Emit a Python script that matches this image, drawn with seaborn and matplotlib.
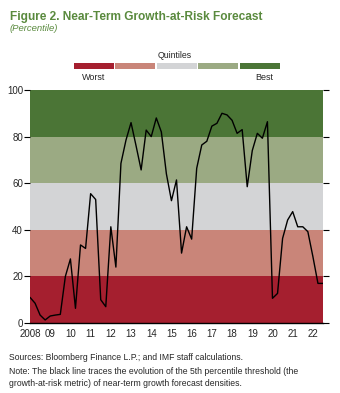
import numpy as np
import pandas as pd
import matplotlib
matplotlib.use("Agg")
import matplotlib.pyplot as plt
from matplotlib.patches import Rectangle
import seaborn as sns

sns.set_theme(style="white")
plt.rcParams["font.family"] = ["Liberation Sans", "DejaVu Sans"]

# Quarterly growth-at-risk percentile, 2008Q1 .. 2022Q3
start_year = 2008
percentile = [
    11, 8.5, 3.4, 1.3,          # 2008
    3.0, 3.4, 3.7, 20,          # 2009
    27.5, 6.3, 33.5, 32,        # 2010
    55.5, 53, 10, 7,            # 2011
    41.3, 24, 68.5, 78.5,       # 2012
    86, 76, 65.7, 82.8,         # 2013
    80, 88, 82, 64,             # 2014
    52.5, 61.4, 30, 41.3,       # 2015
    36, 66.4, 76.4, 78,         # 2016
    84.5, 85.7, 90, 89.3,       # 2017
    87, 81.4, 83, 58.5,         # 2018
    74, 81.4, 79.3, 86.4,       # 2019
    10.6, 12.7, 36.3, 44.2,     # 2020
    47.8, 41.3, 41.3, 39.2,     # 2021
    28.5, 17, 17,               # 2022
]
year_ticks = list(range(2008, 2023))
year_labels = ["2008"] + [f"{y % 100:02d}" for y in range(2009, 2023)]

quintile_edges = [0, 20, 40, 60, 80, 100]
quintile_colors = ["#A51F2F", "#C98579", "#D3D4D6", "#9BAA83", "#4B7536"]

df = pd.DataFrame({
    "date": start_year + np.arange(len(percentile)) * 0.25,
    "percentile": percentile,
})

fig = plt.figure(figsize=(3.40, 3.93), dpi=100)
ax = fig.add_axes([30 / 340, 1 - 323 / 393, 293 / 340, 233 / 393])

for lo, hi, c in zip(quintile_edges[:-1], quintile_edges[1:], quintile_colors):
    ax.axhspan(lo, hi, color=c, lw=0, zorder=0)

sns.lineplot(data=df, x="date", y="percentile", color="black", lw=1.0, ax=ax, zorder=3)

ax.set_xlim(2008, 2022.5)
ax.set_ylim(0, 100)
ax.set_xlabel("")
ax.set_ylabel("")
ax.set_xticks(year_ticks)
ax.set_xticklabels(year_labels)
ax.set_yticks(quintile_edges)
ax.tick_params(axis="x", direction="in", length=3, width=0.8, color="black",
               labelsize=7, pad=4.5)
ax.tick_params(axis="y", direction="out", length=4, width=0.8, color="black",
               labelsize=7, pad=1, left=True, right=True)
for s in ["top", "left", "right"]:
    ax.spines[s].set_visible(False)
ax.spines["bottom"].set_color("black")
ax.spines["bottom"].set_linewidth(1.0)

# Title block
fig.text(10 / 340, 1 - 20 / 393, "Figure 2. Near-Term Growth-at-Risk Forecast",
         fontsize=8.6, fontweight="bold", color="#5A8A3E", ha="left", va="baseline")
fig.text(10 / 340, 1 - 31 / 393, "(Percentile)", fontsize=6.8, style="italic",
         color="#5A8A3E", ha="left", va="baseline")

# Quintile key
fig.text(175 / 340, 1 - 56 / 393, "Quintiles", fontsize=6.3, ha="center", va="center")
box_x = [74, 115, 157, 198, 240]
for bx, c in zip(box_x, quintile_colors):
    fig.patches.append(Rectangle((bx / 340, 1 - 69 / 393), 40 / 340, 6 / 393,
                                 transform=fig.transFigure, color=c, lw=0))
fig.text(94 / 340, 1 - 78 / 393, "Worst", fontsize=6.5, ha="center", va="center")
fig.text(264 / 340, 1 - 78 / 393, "Best", fontsize=6.5, ha="center", va="center")

# Footnotes
notes = [
    "Sources: Bloomberg Finance L.P.; and IMF staff calculations.",
    "Note: The black line traces the evolution of the 5th percentile threshold (the",
    "growth-at-risk metric) of near-term growth forecast densities.",
]
for i, line in enumerate(notes):
    fig.text(9 / 340, 1 - (358 + 13 * i) / 393, line, fontsize=6.2,
             ha="left", va="center")

fig.savefig("out.png", dpi=100)
